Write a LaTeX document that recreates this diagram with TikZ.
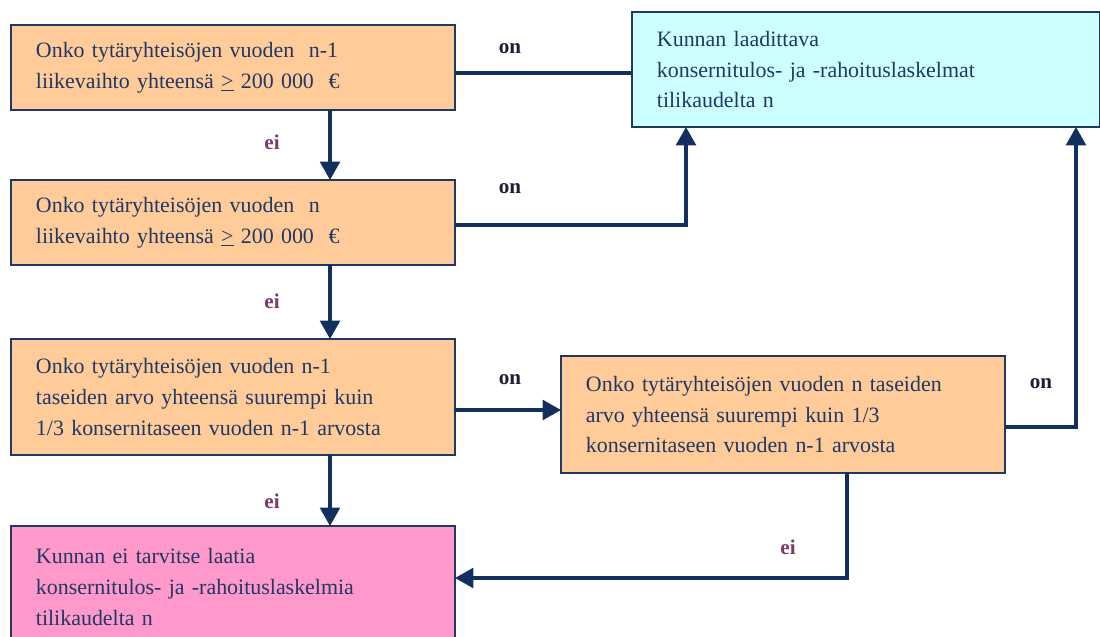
\documentclass[tikz,border=0pt]{standalone}
\usepackage{fontspec}
\setmainfont{Liberation Serif}
\usetikzlibrary{arrows.meta}
\definecolor{navy}{HTML}{1F3864}
\definecolor{wire}{HTML}{122F5E}
\definecolor{peach}{HTML}{FFCC99}
\definecolor{aqua}{HTML}{CCFFFF}
\definecolor{rose}{HTML}{FF99CC}
\definecolor{plum}{HTML}{7B3A6C}
\definecolor{ink}{HTML}{1A1F33}
\tikzset{
  box/.style={draw=navy, line width=1.4pt, text=navy, align=left,
    inner xsep=0.625cm, inner ysep=0pt,
    font=\fontsize{15.6}{22}\selectfont},
  qbox/.style={box, fill=peach, text width=9.85cm},
  conn/.style={draw=wire, line width=2.3pt},
  arr/.style={conn, -{Triangle[length=13pt,width=14pt]}},
  onlab/.style={text=ink, font=\bfseries\fontsize{15}{15}\selectfont},
  eilab/.style={text=plum, font=\bfseries\fontsize{15}{15}\selectfont}
}
\begin{document}
\begin{tikzpicture}[x=0.025cm, y=-0.025cm]
\useasboundingbox (0,0) rectangle (1100,637);
\clip (0,0) rectangle (1100,637);

% question boxes
\node[qbox, minimum height=2.125cm] (q1) at (233,67.5)
  {Onko tytäryhteisöjen vuoden~ n-1\\liikevaihto yhteensä \underline{>} 200 000~ €};
\node[qbox, minimum height=2.125cm] (q2) at (233,222.5)
  {Onko tytäryhteisöjen vuoden~ n\\liikevaihto yhteensä \underline{>} 200 000~ €};
\node[qbox, minimum height=2.9cm] (q3) at (233,397)
  {Onko tytäryhteisöjen vuoden n-1\\taseiden arvo yhteensä suurempi kuin\\1/3 konsernitaseen vuoden n-1 arvosta};
\node[qbox, minimum height=2.925cm] (q6) at (783,414.5)
  {Onko tytäryhteisöjen vuoden n taseiden\\arvo yhteensä suurempi kuin 1/3\\konsernitaseen vuoden n-1 arvosta};

% outcome boxes
\node[box, fill=aqua, text width=10.45cm, minimum height=2.875cm] (yes) at (866,69.5)
  {Kunnan laadittava\\konsernitulos- ja -rahoituslaskelmat\\tilikaudelta n};
\node[box, fill=rose, text width=9.85cm, minimum height=3.05cm] (no) at (233,587)
  {Kunnan ei tarvitse laatia\\konsernitulos- ja -rahoituslaskelmia\\tilikaudelta n};

% connector bend points and attachment points
\coordinate (a1) at (330,110);
\coordinate (a2) at (330,180);
\coordinate (b1) at (330,265);
\coordinate (b2) at (330,339);
\coordinate (c1) at (330,455);
\coordinate (c2) at (330,526);
\coordinate (d1) at (455,73);
\coordinate (d2) at (632,73);
\coordinate (e1) at (455,225);
\coordinate (e2) at (686,127);
\coordinate (f1) at (455,410);
\coordinate (f2) at (561,410);
\coordinate (g1) at (1005,427);
\coordinate (g2) at (1076,127);
\coordinate (h1) at (847,473);
\coordinate (h2) at (455,578);

% "ei" branches
\draw[arr] (a1) -- (a2);
\draw[arr] (b1) -- (b2);
\draw[arr] (c1) -- (c2);
\draw[arr] (h1) |- (h2);

% "on" branches
\draw[conn] (d1) -- (d2);
\draw[arr] (e1) -| (e2);
\draw[arr] (f1) -- (f2);
\draw[arr] (g1) -| (g2);

% branch labels
\node[onlab] (l1) at (510,49) {on};
\node[onlab] (l2) at (510,189) {on};
\node[onlab] (l3) at (510,380) {on};
\node[onlab] (l4) at (1041,384) {on};
\node[eilab] (m1) at (272,142) {ei};
\node[eilab] (m2) at (272,301) {ei};
\node[eilab] (m3) at (272,501) {ei};
\node[eilab] (m4) at (788,547) {ei};
\end{tikzpicture}
\end{document}
